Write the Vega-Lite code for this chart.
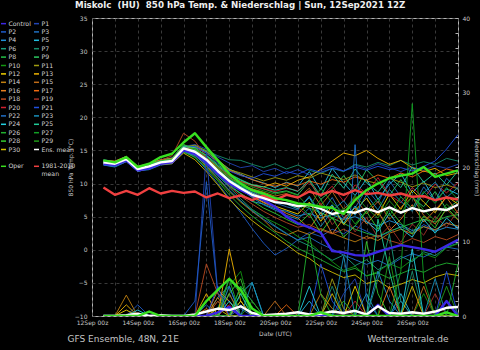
{
"$schema": "https://vega.github.io/schema/vega-lite/v6.json",
"width": 366,
"height": 298,
"autosize": {"type": "none"},
"padding": {"left": 92, "top": 18, "right": 22, "bottom": 34},
"background": "#000000",
"title": {"text": "Miskolc\u00a0 (HU)\u00a0 850 hPa Temp. & Niederschlag | Sun, 12Sep2021 12Z", "anchor": "start", "frame": "group", "dx": -17, "dy": 6.5, "offset": 5, "baseline": "alphabetic", "font": "DejaVu Sans", "fontSize": 8.7, "fontWeight": "bold", "color": "#eeeeee"},
"config": {
  "font": "DejaVu Sans",
  "view": {"stroke": "#b4b4b4", "strokeWidth": 1},
  "axis": {"labelFont": "DejaVu Sans", "titleFont": "DejaVu Sans", "labelColor": "#c8c8c8", "titleColor": "#c8c8c8", "labelFontSize": 6, "titleFontSize": 6, "titleFontWeight": "normal", "domain": false, "gridColor": "#474747", "gridDash": [3, 3], "gridWidth": 0.8}
},
"data": {"values": [
{"m":"P1","h":12,"t":13.4,"p":0},{"m":"P1","h":24,"t":13.2,"p":0},{"m":"P1","h":36,"t":13.9,"p":0},{"m":"P1","h":48,"t":12.5,"p":0},{"m":"P1","h":60,"t":12.7,"p":0},{"m":"P1","h":72,"t":13.4,"p":0},{"m":"P1","h":84,"t":13.7,"p":0},{"m":"P1","h":96,"t":15.6,"p":0},{"m":"P1","h":108,"t":15.9,"p":0},{"m":"P1","h":120,"t":15.2,"p":22},{"m":"P1","h":132,"t":14.0,"p":3},{"m":"P1","h":144,"t":13.1,"p":0},{"m":"P1","h":156,"t":12.4,"p":1.5},{"m":"P1","h":168,"t":12.7,"p":0},{"m":"P1","h":180,"t":11.8,"p":0},{"m":"P1","h":192,"t":12.3,"p":0},{"m":"P1","h":204,"t":11.5,"p":0},{"m":"P1","h":216,"t":12.1,"p":0},{"m":"P1","h":228,"t":11.3,"p":0},{"m":"P1","h":240,"t":12.0,"p":0},{"m":"P1","h":252,"t":12.6,"p":0},{"m":"P1","h":264,"t":11.9,"p":3},{"m":"P1","h":276,"t":12.8,"p":5},{"m":"P1","h":288,"t":12.2,"p":0},{"m":"P1","h":300,"t":13.0,"p":0},{"m":"P1","h":312,"t":12.4,"p":0},{"m":"P1","h":324,"t":11.8,"p":0},{"m":"P1","h":336,"t":12.5,"p":0},{"m":"P1","h":348,"t":12.0,"p":0},{"m":"P1","h":360,"t":12.7,"p":0},{"m":"P1","h":372,"t":12.3,"p":0},{"m":"P1","h":384,"t":12.9,"p":0},
{"m":"P2","h":12,"t":12.9,"p":0},{"m":"P2","h":24,"t":12.8,"p":0},{"m":"P2","h":36,"t":13.4,"p":0},{"m":"P2","h":48,"t":11.8,"p":1.5},{"m":"P2","h":60,"t":12.4,"p":0},{"m":"P2","h":72,"t":12.9,"p":0},{"m":"P2","h":84,"t":13.1,"p":0},{"m":"P2","h":96,"t":14.9,"p":0},{"m":"P2","h":108,"t":14.0,"p":2},{"m":"P2","h":120,"t":12.1,"p":18},{"m":"P2","h":132,"t":10.0,"p":3},{"m":"P2","h":144,"t":7.8,"p":2},{"m":"P2","h":156,"t":5.6,"p":0},{"m":"P2","h":168,"t":3.2,"p":0},{"m":"P2","h":180,"t":1.0,"p":0},{"m":"P2","h":192,"t":-0.8,"p":0},{"m":"P2","h":204,"t":0.2,"p":0},{"m":"P2","h":216,"t":1.5,"p":0},{"m":"P2","h":228,"t":2.6,"p":0},{"m":"P2","h":240,"t":2.0,"p":0},{"m":"P2","h":252,"t":3.1,"p":0},{"m":"P2","h":264,"t":2.4,"p":0},{"m":"P2","h":276,"t":3.6,"p":0},{"m":"P2","h":288,"t":2.8,"p":0},{"m":"P2","h":300,"t":1.9,"p":0},{"m":"P2","h":312,"t":2.7,"p":0},{"m":"P2","h":324,"t":3.5,"p":0},{"m":"P2","h":336,"t":2.6,"p":0},{"m":"P2","h":348,"t":3.8,"p":0},{"m":"P2","h":360,"t":3.0,"p":0},{"m":"P2","h":372,"t":4.1,"p":0},{"m":"P2","h":384,"t":3.4,"p":0},
{"m":"P3","h":12,"t":13.6,"p":0},{"m":"P3","h":24,"t":13.3,"p":0},{"m":"P3","h":36,"t":14.1,"p":0},{"m":"P3","h":48,"t":12.5,"p":0},{"m":"P3","h":60,"t":13.0,"p":0},{"m":"P3","h":72,"t":13.6,"p":0},{"m":"P3","h":84,"t":13.9,"p":0},{"m":"P3","h":96,"t":15.8,"p":0},{"m":"P3","h":108,"t":15.3,"p":0},{"m":"P3","h":120,"t":14.2,"p":0},{"m":"P3","h":132,"t":12.6,"p":0},{"m":"P3","h":144,"t":11.0,"p":0},{"m":"P3","h":156,"t":9.8,"p":1},{"m":"P3","h":168,"t":8.8,"p":0},{"m":"P3","h":180,"t":8.0,"p":0},{"m":"P3","h":192,"t":7.1,"p":0},{"m":"P3","h":204,"t":6.5,"p":0},{"m":"P3","h":216,"t":6.0,"p":0},{"m":"P3","h":228,"t":8.1,"p":0},{"m":"P3","h":240,"t":5.4,"p":0},{"m":"P3","h":252,"t":7.9,"p":0},{"m":"P3","h":264,"t":4.8,"p":0},{"m":"P3","h":276,"t":6.3,"p":0},{"m":"P3","h":288,"t":9.2,"p":0},{"m":"P3","h":300,"t":7.1,"p":0},{"m":"P3","h":312,"t":10.4,"p":0},{"m":"P3","h":324,"t":8.0,"p":2},{"m":"P3","h":336,"t":6.2,"p":0},{"m":"P3","h":348,"t":9.5,"p":0},{"m":"P3","h":360,"t":7.3,"p":0},{"m":"P3","h":372,"t":10.8,"p":0},{"m":"P3","h":384,"t":9.1,"p":0},
{"m":"P4","h":12,"t":12.8,"p":0},{"m":"P4","h":24,"t":12.5,"p":0},{"m":"P4","h":36,"t":13.3,"p":0},{"m":"P4","h":48,"t":11.9,"p":0},{"m":"P4","h":60,"t":12.1,"p":0},{"m":"P4","h":72,"t":12.8,"p":0},{"m":"P4","h":84,"t":13.0,"p":0},{"m":"P4","h":96,"t":14.7,"p":0},{"m":"P4","h":108,"t":14.3,"p":0},{"m":"P4","h":120,"t":13.0,"p":0},{"m":"P4","h":132,"t":11.2,"p":2.5},{"m":"P4","h":144,"t":9.6,"p":4},{"m":"P4","h":156,"t":8.5,"p":0},{"m":"P4","h":168,"t":7.3,"p":0},{"m":"P4","h":180,"t":6.9,"p":0},{"m":"P4","h":192,"t":6.2,"p":0},{"m":"P4","h":204,"t":5.8,"p":0},{"m":"P4","h":216,"t":5.1,"p":0},{"m":"P4","h":228,"t":5.5,"p":0},{"m":"P4","h":240,"t":4.8,"p":0},{"m":"P4","h":252,"t":5.3,"p":0},{"m":"P4","h":264,"t":4.6,"p":0},{"m":"P4","h":276,"t":5.0,"p":0},{"m":"P4","h":288,"t":4.2,"p":0},{"m":"P4","h":300,"t":3.6,"p":6},{"m":"P4","h":312,"t":4.4,"p":2},{"m":"P4","h":324,"t":3.8,"p":0},{"m":"P4","h":336,"t":2.9,"p":0},{"m":"P4","h":348,"t":3.5,"p":0},{"m":"P4","h":360,"t":2.8,"p":0},{"m":"P4","h":372,"t":3.4,"p":0},{"m":"P4","h":384,"t":3.1,"p":0},
{"m":"P5","h":12,"t":13.3,"p":0},{"m":"P5","h":24,"t":13.1,"p":0},{"m":"P5","h":36,"t":13.8,"p":0},{"m":"P5","h":48,"t":12.3,"p":0},{"m":"P5","h":60,"t":12.7,"p":0},{"m":"P5","h":72,"t":13.3,"p":0},{"m":"P5","h":84,"t":13.5,"p":0},{"m":"P5","h":96,"t":15.4,"p":0},{"m":"P5","h":108,"t":15.6,"p":0},{"m":"P5","h":120,"t":14.8,"p":0},{"m":"P5","h":132,"t":13.5,"p":0},{"m":"P5","h":144,"t":12.2,"p":0},{"m":"P5","h":156,"t":11.4,"p":3},{"m":"P5","h":168,"t":10.6,"p":4.5},{"m":"P5","h":180,"t":10.1,"p":0},{"m":"P5","h":192,"t":9.4,"p":0},{"m":"P5","h":204,"t":10.2,"p":0},{"m":"P5","h":216,"t":9.6,"p":0},{"m":"P5","h":228,"t":11.8,"p":2},{"m":"P5","h":240,"t":9.0,"p":0},{"m":"P5","h":252,"t":12.3,"p":0},{"m":"P5","h":264,"t":10.1,"p":0},{"m":"P5","h":276,"t":8.2,"p":0},{"m":"P5","h":288,"t":10.7,"p":0},{"m":"P5","h":300,"t":7.6,"p":0},{"m":"P5","h":312,"t":9.9,"p":0},{"m":"P5","h":324,"t":11.5,"p":3},{"m":"P5","h":336,"t":8.6,"p":0},{"m":"P5","h":348,"t":10.4,"p":0},{"m":"P5","h":360,"t":7.4,"p":0},{"m":"P5","h":372,"t":9.2,"p":0},{"m":"P5","h":384,"t":8.4,"p":0},
{"m":"P6","h":12,"t":13.2,"p":0},{"m":"P6","h":24,"t":13.0,"p":0},{"m":"P6","h":36,"t":13.6,"p":0},{"m":"P6","h":48,"t":12.1,"p":0},{"m":"P6","h":60,"t":12.6,"p":0},{"m":"P6","h":72,"t":13.1,"p":0},{"m":"P6","h":84,"t":13.3,"p":0},{"m":"P6","h":96,"t":15.1,"p":0},{"m":"P6","h":108,"t":14.6,"p":0},{"m":"P6","h":120,"t":13.2,"p":0},{"m":"P6","h":132,"t":11.2,"p":0},{"m":"P6","h":144,"t":9.4,"p":3},{"m":"P6","h":156,"t":7.7,"p":0},{"m":"P6","h":168,"t":6.1,"p":0},{"m":"P6","h":180,"t":5.0,"p":0},{"m":"P6","h":192,"t":3.6,"p":0},{"m":"P6","h":204,"t":2.5,"p":0},{"m":"P6","h":216,"t":1.4,"p":0},{"m":"P6","h":228,"t":0.6,"p":0},{"m":"P6","h":240,"t":-0.5,"p":0},{"m":"P6","h":252,"t":-1.6,"p":0},{"m":"P6","h":264,"t":-0.8,"p":0},{"m":"P6","h":276,"t":-2.4,"p":0},{"m":"P6","h":288,"t":-1.5,"p":0},{"m":"P6","h":300,"t":-3.0,"p":5},{"m":"P6","h":312,"t":-2.2,"p":11},{"m":"P6","h":324,"t":-1.0,"p":2},{"m":"P6","h":336,"t":-1.8,"p":0},{"m":"P6","h":348,"t":-0.3,"p":0},{"m":"P6","h":360,"t":-0.9,"p":0},{"m":"P6","h":372,"t":0.4,"p":0},{"m":"P6","h":384,"t":1.0,"p":0},
{"m":"P7","h":12,"t":13.1,"p":0},{"m":"P7","h":24,"t":12.9,"p":0},{"m":"P7","h":36,"t":13.6,"p":0},{"m":"P7","h":48,"t":12.2,"p":0},{"m":"P7","h":60,"t":12.5,"p":0},{"m":"P7","h":72,"t":13.3,"p":0},{"m":"P7","h":84,"t":13.6,"p":0},{"m":"P7","h":96,"t":15.5,"p":0},{"m":"P7","h":108,"t":15.7,"p":0},{"m":"P7","h":120,"t":15.0,"p":0},{"m":"P7","h":132,"t":14.2,"p":0},{"m":"P7","h":144,"t":13.6,"p":0},{"m":"P7","h":156,"t":13.5,"p":2},{"m":"P7","h":168,"t":12.9,"p":0},{"m":"P7","h":180,"t":12.4,"p":0},{"m":"P7","h":192,"t":13.0,"p":0},{"m":"P7","h":204,"t":12.2,"p":0},{"m":"P7","h":216,"t":12.8,"p":0},{"m":"P7","h":228,"t":12.0,"p":0},{"m":"P7","h":240,"t":11.5,"p":0},{"m":"P7","h":252,"t":12.3,"p":4},{"m":"P7","h":264,"t":11.8,"p":0},{"m":"P7","h":276,"t":12.9,"p":0},{"m":"P7","h":288,"t":12.5,"p":0},{"m":"P7","h":300,"t":13.2,"p":0},{"m":"P7","h":312,"t":12.7,"p":0},{"m":"P7","h":324,"t":13.5,"p":0},{"m":"P7","h":336,"t":12.8,"p":6},{"m":"P7","h":348,"t":13.3,"p":0},{"m":"P7","h":360,"t":12.9,"p":0},{"m":"P7","h":372,"t":13.8,"p":0},{"m":"P7","h":384,"t":13.4,"p":0},
{"m":"P8","h":12,"t":13.5,"p":0},{"m":"P8","h":24,"t":13.3,"p":0},{"m":"P8","h":36,"t":14.0,"p":0},{"m":"P8","h":48,"t":12.4,"p":0},{"m":"P8","h":60,"t":12.9,"p":0},{"m":"P8","h":72,"t":13.5,"p":0},{"m":"P8","h":84,"t":13.8,"p":0},{"m":"P8","h":96,"t":15.7,"p":0},{"m":"P8","h":108,"t":15.4,"p":0},{"m":"P8","h":120,"t":14.0,"p":0},{"m":"P8","h":132,"t":12.3,"p":1},{"m":"P8","h":144,"t":10.8,"p":5},{"m":"P8","h":156,"t":9.6,"p":3},{"m":"P8","h":168,"t":8.9,"p":0},{"m":"P8","h":180,"t":8.2,"p":0},{"m":"P8","h":192,"t":7.9,"p":0},{"m":"P8","h":204,"t":7.4,"p":0},{"m":"P8","h":216,"t":6.8,"p":0},{"m":"P8","h":228,"t":6.3,"p":0},{"m":"P8","h":240,"t":5.6,"p":0},{"m":"P8","h":252,"t":4.8,"p":0},{"m":"P8","h":264,"t":4.0,"p":0},{"m":"P8","h":276,"t":3.1,"p":0},{"m":"P8","h":288,"t":2.5,"p":0},{"m":"P8","h":300,"t":2.0,"p":0},{"m":"P8","h":312,"t":2.8,"p":0},{"m":"P8","h":324,"t":3.4,"p":0},{"m":"P8","h":336,"t":4.0,"p":0},{"m":"P8","h":348,"t":4.6,"p":0},{"m":"P8","h":360,"t":4.2,"p":0},{"m":"P8","h":372,"t":5.0,"p":0},{"m":"P8","h":384,"t":5.3,"p":0},
{"m":"P9","h":12,"t":13.0,"p":0},{"m":"P9","h":24,"t":12.8,"p":0},{"m":"P9","h":36,"t":13.5,"p":0},{"m":"P9","h":48,"t":12.0,"p":0},{"m":"P9","h":60,"t":12.4,"p":0},{"m":"P9","h":72,"t":13.0,"p":0},{"m":"P9","h":84,"t":13.2,"p":0},{"m":"P9","h":96,"t":15.0,"p":0},{"m":"P9","h":108,"t":15.2,"p":0},{"m":"P9","h":120,"t":14.3,"p":0},{"m":"P9","h":132,"t":12.9,"p":0},{"m":"P9","h":144,"t":11.5,"p":0},{"m":"P9","h":156,"t":10.6,"p":4},{"m":"P9","h":168,"t":9.8,"p":2},{"m":"P9","h":180,"t":9.2,"p":0},{"m":"P9","h":192,"t":8.6,"p":0},{"m":"P9","h":204,"t":8.9,"p":0},{"m":"P9","h":216,"t":8.3,"p":0},{"m":"P9","h":228,"t":10.4,"p":0},{"m":"P9","h":240,"t":7.6,"p":0},{"m":"P9","h":252,"t":9.1,"p":0},{"m":"P9","h":264,"t":11.2,"p":0},{"m":"P9","h":276,"t":9.0,"p":0},{"m":"P9","h":288,"t":12.1,"p":0},{"m":"P9","h":300,"t":10.3,"p":0},{"m":"P9","h":312,"t":8.2,"p":0},{"m":"P9","h":324,"t":10.6,"p":0},{"m":"P9","h":336,"t":7.9,"p":0},{"m":"P9","h":348,"t":6.5,"p":0},{"m":"P9","h":360,"t":8.8,"p":0},{"m":"P9","h":372,"t":6.1,"p":0},{"m":"P9","h":384,"t":7.4,"p":0},
{"m":"P10","h":12,"t":13.1,"p":0},{"m":"P10","h":24,"t":13.0,"p":0},{"m":"P10","h":36,"t":13.8,"p":0},{"m":"P10","h":48,"t":12.3,"p":0},{"m":"P10","h":60,"t":12.5,"p":0},{"m":"P10","h":72,"t":13.0,"p":0},{"m":"P10","h":84,"t":13.1,"p":0},{"m":"P10","h":96,"t":14.8,"p":0},{"m":"P10","h":108,"t":13.9,"p":0},{"m":"P10","h":120,"t":12.5,"p":0},{"m":"P10","h":132,"t":10.6,"p":0},{"m":"P10","h":144,"t":8.7,"p":4},{"m":"P10","h":156,"t":7.3,"p":6},{"m":"P10","h":168,"t":6.0,"p":0},{"m":"P10","h":180,"t":4.9,"p":0},{"m":"P10","h":192,"t":4.1,"p":0},{"m":"P10","h":204,"t":3.2,"p":0},{"m":"P10","h":216,"t":2.0,"p":0},{"m":"P10","h":228,"t":1.1,"p":0},{"m":"P10","h":240,"t":-0.4,"p":0},{"m":"P10","h":252,"t":-1.8,"p":0},{"m":"P10","h":264,"t":-3.1,"p":0},{"m":"P10","h":276,"t":-2.5,"p":0},{"m":"P10","h":288,"t":-4.0,"p":0},{"m":"P10","h":300,"t":-3.3,"p":0},{"m":"P10","h":312,"t":-2.1,"p":0},{"m":"P10","h":324,"t":-2.8,"p":0},{"m":"P10","h":336,"t":-1.5,"p":0},{"m":"P10","h":348,"t":-0.6,"p":3},{"m":"P10","h":360,"t":-1.2,"p":0},{"m":"P10","h":372,"t":0.3,"p":0},{"m":"P10","h":384,"t":0.9,"p":0},
{"m":"P11","h":12,"t":13.4,"p":0},{"m":"P11","h":24,"t":13.2,"p":0},{"m":"P11","h":36,"t":13.9,"p":0},{"m":"P11","h":48,"t":12.4,"p":0},{"m":"P11","h":60,"t":12.8,"p":0},{"m":"P11","h":72,"t":13.3,"p":0},{"m":"P11","h":84,"t":13.6,"p":0},{"m":"P11","h":96,"t":15.5,"p":0},{"m":"P11","h":108,"t":15.8,"p":0},{"m":"P11","h":120,"t":14.9,"p":0},{"m":"P11","h":132,"t":13.6,"p":2},{"m":"P11","h":144,"t":12.1,"p":0},{"m":"P11","h":156,"t":11.6,"p":0},{"m":"P11","h":168,"t":11.0,"p":0},{"m":"P11","h":180,"t":10.4,"p":0},{"m":"P11","h":192,"t":10.9,"p":0},{"m":"P11","h":204,"t":10.5,"p":0},{"m":"P11","h":216,"t":11.2,"p":0},{"m":"P11","h":228,"t":10.8,"p":0},{"m":"P11","h":240,"t":11.6,"p":0},{"m":"P11","h":252,"t":11.1,"p":5},{"m":"P11","h":264,"t":10.6,"p":1},{"m":"P11","h":276,"t":11.3,"p":0},{"m":"P11","h":288,"t":10.4,"p":0},{"m":"P11","h":300,"t":10.0,"p":0},{"m":"P11","h":312,"t":10.8,"p":0},{"m":"P11","h":324,"t":10.2,"p":0},{"m":"P11","h":336,"t":9.5,"p":0},{"m":"P11","h":348,"t":10.1,"p":0},{"m":"P11","h":360,"t":9.4,"p":0},{"m":"P11","h":372,"t":9.8,"p":0},{"m":"P11","h":384,"t":9.2,"p":0},
{"m":"P12","h":12,"t":13.0,"p":0},{"m":"P12","h":24,"t":12.7,"p":0},{"m":"P12","h":36,"t":13.5,"p":0.8},{"m":"P12","h":48,"t":12.0,"p":0},{"m":"P12","h":60,"t":12.3,"p":0},{"m":"P12","h":72,"t":13.0,"p":0},{"m":"P12","h":84,"t":13.3,"p":0},{"m":"P12","h":96,"t":15.2,"p":0},{"m":"P12","h":108,"t":14.7,"p":0},{"m":"P12","h":120,"t":13.5,"p":0},{"m":"P12","h":132,"t":11.8,"p":0},{"m":"P12","h":144,"t":10.1,"p":0},{"m":"P12","h":156,"t":9.0,"p":2},{"m":"P12","h":168,"t":8.1,"p":0},{"m":"P12","h":180,"t":7.2,"p":0},{"m":"P12","h":192,"t":6.6,"p":0},{"m":"P12","h":204,"t":6.0,"p":0},{"m":"P12","h":216,"t":5.4,"p":0},{"m":"P12","h":228,"t":7.2,"p":0},{"m":"P12","h":240,"t":4.3,"p":0},{"m":"P12","h":252,"t":6.6,"p":0},{"m":"P12","h":264,"t":3.8,"p":0},{"m":"P12","h":276,"t":5.9,"p":4},{"m":"P12","h":288,"t":7.8,"p":0},{"m":"P12","h":300,"t":5.2,"p":0},{"m":"P12","h":312,"t":8.4,"p":0},{"m":"P12","h":324,"t":6.1,"p":0},{"m":"P12","h":336,"t":9.0,"p":0},{"m":"P12","h":348,"t":7.2,"p":0},{"m":"P12","h":360,"t":5.6,"p":0},{"m":"P12","h":372,"t":8.1,"p":0},{"m":"P12","h":384,"t":6.9,"p":0},
{"m":"P13","h":12,"t":13.3,"p":0},{"m":"P13","h":24,"t":13.1,"p":0},{"m":"P13","h":36,"t":13.7,"p":1.5},{"m":"P13","h":48,"t":12.2,"p":0},{"m":"P13","h":60,"t":12.7,"p":0},{"m":"P13","h":72,"t":13.4,"p":0},{"m":"P13","h":84,"t":13.5,"p":0},{"m":"P13","h":96,"t":15.4,"p":0},{"m":"P13","h":108,"t":15.1,"p":0},{"m":"P13","h":120,"t":13.9,"p":3},{"m":"P13","h":132,"t":12.5,"p":0},{"m":"P13","h":144,"t":11.2,"p":9},{"m":"P13","h":156,"t":10.3,"p":2},{"m":"P13","h":168,"t":9.8,"p":0},{"m":"P13","h":180,"t":9.5,"p":0},{"m":"P13","h":192,"t":10.1,"p":0},{"m":"P13","h":204,"t":9.6,"p":0},{"m":"P13","h":216,"t":10.5,"p":0},{"m":"P13","h":228,"t":11.0,"p":0},{"m":"P13","h":240,"t":12.2,"p":0},{"m":"P13","h":252,"t":13.4,"p":0},{"m":"P13","h":264,"t":14.6,"p":0},{"m":"P13","h":276,"t":14.2,"p":0},{"m":"P13","h":288,"t":15.0,"p":0},{"m":"P13","h":300,"t":13.8,"p":0},{"m":"P13","h":312,"t":12.9,"p":0},{"m":"P13","h":324,"t":13.5,"p":0},{"m":"P13","h":336,"t":12.4,"p":0},{"m":"P13","h":348,"t":11.8,"p":0},{"m":"P13","h":360,"t":12.3,"p":0},{"m":"P13","h":372,"t":11.2,"p":0},{"m":"P13","h":384,"t":11.6,"p":0},
{"m":"P14","h":12,"t":13.2,"p":0},{"m":"P14","h":24,"t":13.0,"p":0},{"m":"P14","h":36,"t":13.6,"p":2.8},{"m":"P14","h":48,"t":12.1,"p":0},{"m":"P14","h":60,"t":12.5,"p":0},{"m":"P14","h":72,"t":13.3,"p":0},{"m":"P14","h":84,"t":13.5,"p":0},{"m":"P14","h":96,"t":15.0,"p":0},{"m":"P14","h":108,"t":14.3,"p":0},{"m":"P14","h":120,"t":12.6,"p":0},{"m":"P14","h":132,"t":10.8,"p":2.5},{"m":"P14","h":144,"t":8.9,"p":0},{"m":"P14","h":156,"t":7.2,"p":0},{"m":"P14","h":168,"t":5.8,"p":0},{"m":"P14","h":180,"t":4.5,"p":0},{"m":"P14","h":192,"t":2.8,"p":0},{"m":"P14","h":204,"t":2.2,"p":0},{"m":"P14","h":216,"t":2.9,"p":0},{"m":"P14","h":228,"t":2.3,"p":0},{"m":"P14","h":240,"t":3.2,"p":3},{"m":"P14","h":252,"t":2.5,"p":1},{"m":"P14","h":264,"t":1.8,"p":0},{"m":"P14","h":276,"t":1.2,"p":0},{"m":"P14","h":288,"t":2.0,"p":0},{"m":"P14","h":300,"t":1.4,"p":0},{"m":"P14","h":312,"t":2.5,"p":0},{"m":"P14","h":324,"t":3.1,"p":0},{"m":"P14","h":336,"t":2.4,"p":0},{"m":"P14","h":348,"t":3.5,"p":0},{"m":"P14","h":360,"t":3.0,"p":0},{"m":"P14","h":372,"t":4.0,"p":0},{"m":"P14","h":384,"t":3.6,"p":0},
{"m":"P15","h":12,"t":12.9,"p":0},{"m":"P15","h":24,"t":12.8,"p":0},{"m":"P15","h":36,"t":13.5,"p":0},{"m":"P15","h":48,"t":12.0,"p":0},{"m":"P15","h":60,"t":12.4,"p":0},{"m":"P15","h":72,"t":13.1,"p":0},{"m":"P15","h":84,"t":13.2,"p":0},{"m":"P15","h":96,"t":15.1,"p":0},{"m":"P15","h":108,"t":14.9,"p":0},{"m":"P15","h":120,"t":13.8,"p":0},{"m":"P15","h":132,"t":12.3,"p":0},{"m":"P15","h":144,"t":10.9,"p":3},{"m":"P15","h":156,"t":9.9,"p":0},{"m":"P15","h":168,"t":9.2,"p":0},{"m":"P15","h":180,"t":8.7,"p":0},{"m":"P15","h":192,"t":8.1,"p":2},{"m":"P15","h":204,"t":8.5,"p":0},{"m":"P15","h":216,"t":7.8,"p":0},{"m":"P15","h":228,"t":9.3,"p":0},{"m":"P15","h":240,"t":6.7,"p":0},{"m":"P15","h":252,"t":8.8,"p":0},{"m":"P15","h":264,"t":6.1,"p":0},{"m":"P15","h":276,"t":7.9,"p":0},{"m":"P15","h":288,"t":5.4,"p":0},{"m":"P15","h":300,"t":7.3,"p":0},{"m":"P15","h":312,"t":4.6,"p":0},{"m":"P15","h":324,"t":6.4,"p":0},{"m":"P15","h":336,"t":8.0,"p":0},{"m":"P15","h":348,"t":5.2,"p":4},{"m":"P15","h":360,"t":3.9,"p":0},{"m":"P15","h":372,"t":6.1,"p":0},{"m":"P15","h":384,"t":4.5,"p":0},
{"m":"P16","h":12,"t":13.5,"p":0},{"m":"P16","h":24,"t":13.4,"p":0},{"m":"P16","h":36,"t":14.1,"p":0},{"m":"P16","h":48,"t":12.6,"p":0},{"m":"P16","h":60,"t":13.0,"p":0},{"m":"P16","h":72,"t":13.6,"p":0},{"m":"P16","h":84,"t":13.8,"p":0},{"m":"P16","h":96,"t":15.6,"p":0},{"m":"P16","h":108,"t":15.2,"p":0},{"m":"P16","h":120,"t":13.8,"p":0},{"m":"P16","h":132,"t":12.1,"p":3.5},{"m":"P16","h":144,"t":10.4,"p":2},{"m":"P16","h":156,"t":9.2,"p":0},{"m":"P16","h":168,"t":8.0,"p":0},{"m":"P16","h":180,"t":7.1,"p":0},{"m":"P16","h":192,"t":6.4,"p":0},{"m":"P16","h":204,"t":5.5,"p":0},{"m":"P16","h":216,"t":4.8,"p":0},{"m":"P16","h":228,"t":3.2,"p":0},{"m":"P16","h":240,"t":5.6,"p":0},{"m":"P16","h":252,"t":2.4,"p":0},{"m":"P16","h":264,"t":4.7,"p":0},{"m":"P16","h":276,"t":6.3,"p":0},{"m":"P16","h":288,"t":3.9,"p":0},{"m":"P16","h":300,"t":5.8,"p":0},{"m":"P16","h":312,"t":2.9,"p":4},{"m":"P16","h":324,"t":4.6,"p":0},{"m":"P16","h":336,"t":6.8,"p":0},{"m":"P16","h":348,"t":4.2,"p":0},{"m":"P16","h":360,"t":6.0,"p":0},{"m":"P16","h":372,"t":7.9,"p":0},{"m":"P16","h":384,"t":5.5,"p":0},
{"m":"P17","h":12,"t":13.1,"p":0},{"m":"P17","h":24,"t":12.9,"p":0},{"m":"P17","h":36,"t":13.5,"p":0},{"m":"P17","h":48,"t":12.1,"p":0},{"m":"P17","h":60,"t":12.6,"p":0},{"m":"P17","h":72,"t":13.2,"p":0},{"m":"P17","h":84,"t":13.5,"p":0},{"m":"P17","h":96,"t":15.3,"p":0},{"m":"P17","h":108,"t":15.5,"p":0},{"m":"P17","h":120,"t":14.6,"p":1},{"m":"P17","h":132,"t":13.3,"p":0},{"m":"P17","h":144,"t":12.0,"p":0},{"m":"P17","h":156,"t":11.3,"p":0},{"m":"P17","h":168,"t":10.6,"p":0},{"m":"P17","h":180,"t":10.0,"p":0},{"m":"P17","h":192,"t":9.6,"p":0},{"m":"P17","h":204,"t":10.1,"p":1.5},{"m":"P17","h":216,"t":9.7,"p":0},{"m":"P17","h":228,"t":10.4,"p":0},{"m":"P17","h":240,"t":9.9,"p":0},{"m":"P17","h":252,"t":10.6,"p":0},{"m":"P17","h":264,"t":10.2,"p":0},{"m":"P17","h":276,"t":11.0,"p":0},{"m":"P17","h":288,"t":10.5,"p":0},{"m":"P17","h":300,"t":11.3,"p":0},{"m":"P17","h":312,"t":10.8,"p":0},{"m":"P17","h":324,"t":11.6,"p":0},{"m":"P17","h":336,"t":11.0,"p":0},{"m":"P17","h":348,"t":11.9,"p":0},{"m":"P17","h":360,"t":11.4,"p":0},{"m":"P17","h":372,"t":12.2,"p":0},{"m":"P17","h":384,"t":11.8,"p":0},
{"m":"P18","h":12,"t":13.3,"p":0},{"m":"P18","h":24,"t":13.1,"p":0},{"m":"P18","h":36,"t":13.8,"p":0},{"m":"P18","h":48,"t":12.4,"p":0},{"m":"P18","h":60,"t":12.8,"p":0},{"m":"P18","h":72,"t":13.5,"p":0},{"m":"P18","h":84,"t":14.2,"p":0},{"m":"P18","h":96,"t":17.6,"p":0},{"m":"P18","h":108,"t":16.4,"p":0},{"m":"P18","h":120,"t":14.0,"p":7},{"m":"P18","h":132,"t":11.8,"p":3},{"m":"P18","h":144,"t":9.6,"p":1},{"m":"P18","h":156,"t":8.1,"p":0},{"m":"P18","h":168,"t":6.9,"p":0},{"m":"P18","h":180,"t":5.8,"p":0},{"m":"P18","h":192,"t":4.9,"p":0},{"m":"P18","h":204,"t":4.1,"p":0},{"m":"P18","h":216,"t":3.4,"p":0},{"m":"P18","h":228,"t":3.8,"p":0},{"m":"P18","h":240,"t":3.0,"p":0},{"m":"P18","h":252,"t":2.4,"p":0},{"m":"P18","h":264,"t":3.1,"p":0},{"m":"P18","h":276,"t":2.3,"p":0},{"m":"P18","h":288,"t":1.6,"p":0},{"m":"P18","h":300,"t":2.2,"p":0},{"m":"P18","h":312,"t":1.4,"p":0},{"m":"P18","h":324,"t":0.9,"p":0},{"m":"P18","h":336,"t":1.7,"p":0},{"m":"P18","h":348,"t":1.1,"p":0},{"m":"P18","h":360,"t":2.0,"p":0},{"m":"P18","h":372,"t":1.5,"p":0},{"m":"P18","h":384,"t":2.3,"p":0},
{"m":"P19","h":12,"t":13.0,"p":0},{"m":"P19","h":24,"t":12.9,"p":0},{"m":"P19","h":36,"t":13.6,"p":0},{"m":"P19","h":48,"t":12.2,"p":0},{"m":"P19","h":60,"t":12.5,"p":0},{"m":"P19","h":72,"t":13.1,"p":0},{"m":"P19","h":84,"t":13.3,"p":0},{"m":"P19","h":96,"t":15.2,"p":0},{"m":"P19","h":108,"t":14.6,"p":0},{"m":"P19","h":120,"t":13.4,"p":0},{"m":"P19","h":132,"t":11.8,"p":2},{"m":"P19","h":144,"t":10.3,"p":0},{"m":"P19","h":156,"t":9.4,"p":0},{"m":"P19","h":168,"t":8.6,"p":0},{"m":"P19","h":180,"t":8.0,"p":0},{"m":"P19","h":192,"t":7.5,"p":0},{"m":"P19","h":204,"t":7.0,"p":0},{"m":"P19","h":216,"t":6.4,"p":0},{"m":"P19","h":228,"t":4.9,"p":0},{"m":"P19","h":240,"t":7.1,"p":0},{"m":"P19","h":252,"t":3.8,"p":0},{"m":"P19","h":264,"t":5.6,"p":0},{"m":"P19","h":276,"t":2.7,"p":0},{"m":"P19","h":288,"t":4.9,"p":0},{"m":"P19","h":300,"t":1.8,"p":0},{"m":"P19","h":312,"t":3.6,"p":0},{"m":"P19","h":324,"t":1.1,"p":0},{"m":"P19","h":336,"t":3.9,"p":0},{"m":"P19","h":348,"t":2.2,"p":0},{"m":"P19","h":360,"t":5.1,"p":3},{"m":"P19","h":372,"t":3.4,"p":0},{"m":"P19","h":384,"t":6.0,"p":0},
{"m":"P20","h":12,"t":13.4,"p":0},{"m":"P20","h":24,"t":13.2,"p":0},{"m":"P20","h":36,"t":13.8,"p":0},{"m":"P20","h":48,"t":12.3,"p":0},{"m":"P20","h":60,"t":12.7,"p":0},{"m":"P20","h":72,"t":13.2,"p":0},{"m":"P20","h":84,"t":13.4,"p":0},{"m":"P20","h":96,"t":15.3,"p":0},{"m":"P20","h":108,"t":15.0,"p":0},{"m":"P20","h":120,"t":14.0,"p":0},{"m":"P20","h":132,"t":12.6,"p":0},{"m":"P20","h":144,"t":11.2,"p":1.5},{"m":"P20","h":156,"t":10.3,"p":0},{"m":"P20","h":168,"t":9.7,"p":0},{"m":"P20","h":180,"t":9.2,"p":0},{"m":"P20","h":192,"t":8.8,"p":0},{"m":"P20","h":204,"t":9.3,"p":0},{"m":"P20","h":216,"t":8.9,"p":0},{"m":"P20","h":228,"t":10.2,"p":0},{"m":"P20","h":240,"t":8.0,"p":0},{"m":"P20","h":252,"t":9.6,"p":0},{"m":"P20","h":264,"t":7.3,"p":0},{"m":"P20","h":276,"t":9.8,"p":2},{"m":"P20","h":288,"t":8.5,"p":0},{"m":"P20","h":300,"t":10.9,"p":0},{"m":"P20","h":312,"t":8.3,"p":0},{"m":"P20","h":324,"t":7.1,"p":0},{"m":"P20","h":336,"t":9.4,"p":0},{"m":"P20","h":348,"t":7.8,"p":0},{"m":"P20","h":360,"t":9.9,"p":0},{"m":"P20","h":372,"t":8.6,"p":0},{"m":"P20","h":384,"t":10.1,"p":0},
{"m":"P21","h":12,"t":13.2,"p":0},{"m":"P21","h":24,"t":13.1,"p":0},{"m":"P21","h":36,"t":13.7,"p":0},{"m":"P21","h":48,"t":12.3,"p":0},{"m":"P21","h":60,"t":12.6,"p":0},{"m":"P21","h":72,"t":13.1,"p":0},{"m":"P21","h":84,"t":13.4,"p":0},{"m":"P21","h":96,"t":15.5,"p":0},{"m":"P21","h":108,"t":15.6,"p":0},{"m":"P21","h":120,"t":14.6,"p":0},{"m":"P21","h":132,"t":13.1,"p":4},{"m":"P21","h":144,"t":11.9,"p":0},{"m":"P21","h":156,"t":11.2,"p":0},{"m":"P21","h":168,"t":10.8,"p":0},{"m":"P21","h":180,"t":11.5,"p":0},{"m":"P21","h":192,"t":11.1,"p":0},{"m":"P21","h":204,"t":11.8,"p":0},{"m":"P21","h":216,"t":11.4,"p":0},{"m":"P21","h":228,"t":12.2,"p":0},{"m":"P21","h":240,"t":11.7,"p":7},{"m":"P21","h":252,"t":12.3,"p":2},{"m":"P21","h":264,"t":11.9,"p":0},{"m":"P21","h":276,"t":12.5,"p":0},{"m":"P21","h":288,"t":12.0,"p":0},{"m":"P21","h":300,"t":12.6,"p":0},{"m":"P21","h":312,"t":12.1,"p":0},{"m":"P21","h":324,"t":12.4,"p":0},{"m":"P21","h":336,"t":11.9,"p":0},{"m":"P21","h":348,"t":12.6,"p":0},{"m":"P21","h":360,"t":13.4,"p":0},{"m":"P21","h":372,"t":15.2,"p":6},{"m":"P21","h":384,"t":17.4,"p":0},
{"m":"P22","h":12,"t":12.8,"p":0},{"m":"P22","h":24,"t":12.6,"p":0},{"m":"P22","h":36,"t":13.3,"p":0},{"m":"P22","h":48,"t":11.8,"p":0},{"m":"P22","h":60,"t":12.3,"p":0},{"m":"P22","h":72,"t":12.9,"p":0},{"m":"P22","h":84,"t":13.1,"p":0},{"m":"P22","h":96,"t":14.9,"p":0},{"m":"P22","h":108,"t":14.2,"p":0},{"m":"P22","h":120,"t":12.8,"p":1.5},{"m":"P22","h":132,"t":10.9,"p":0},{"m":"P22","h":144,"t":9.0,"p":4},{"m":"P22","h":156,"t":7.4,"p":0},{"m":"P22","h":168,"t":5.9,"p":0},{"m":"P22","h":180,"t":4.6,"p":0},{"m":"P22","h":192,"t":3.5,"p":0},{"m":"P22","h":204,"t":2.4,"p":0},{"m":"P22","h":216,"t":1.5,"p":0},{"m":"P22","h":228,"t":1.9,"p":0},{"m":"P22","h":240,"t":0.9,"p":0},{"m":"P22","h":252,"t":0.1,"p":0},{"m":"P22","h":264,"t":-0.8,"p":0},{"m":"P22","h":276,"t":-1.5,"p":23},{"m":"P22","h":288,"t":-2.2,"p":2},{"m":"P22","h":300,"t":-1.6,"p":0},{"m":"P22","h":312,"t":-2.4,"p":0},{"m":"P22","h":324,"t":-1.3,"p":0},{"m":"P22","h":336,"t":-0.6,"p":0},{"m":"P22","h":348,"t":-1.1,"p":0},{"m":"P22","h":360,"t":-0.2,"p":0},{"m":"P22","h":372,"t":0.4,"p":0},{"m":"P22","h":384,"t":0.1,"p":0},
{"m":"P23","h":12,"t":13.3,"p":0},{"m":"P23","h":24,"t":13.2,"p":0},{"m":"P23","h":36,"t":13.8,"p":0},{"m":"P23","h":48,"t":12.3,"p":0},{"m":"P23","h":60,"t":12.6,"p":0},{"m":"P23","h":72,"t":13.3,"p":0},{"m":"P23","h":84,"t":13.5,"p":0},{"m":"P23","h":96,"t":15.2,"p":0},{"m":"P23","h":108,"t":15.1,"p":0},{"m":"P23","h":120,"t":13.7,"p":0},{"m":"P23","h":132,"t":12.0,"p":0},{"m":"P23","h":144,"t":10.3,"p":0},{"m":"P23","h":156,"t":9.1,"p":0},{"m":"P23","h":168,"t":7.9,"p":4.5},{"m":"P23","h":180,"t":6.8,"p":0},{"m":"P23","h":192,"t":6.0,"p":0},{"m":"P23","h":204,"t":5.2,"p":0},{"m":"P23","h":216,"t":4.6,"p":0},{"m":"P23","h":228,"t":6.3,"p":0},{"m":"P23","h":240,"t":3.5,"p":0},{"m":"P23","h":252,"t":5.9,"p":0},{"m":"P23","h":264,"t":7.4,"p":8},{"m":"P23","h":276,"t":5.2,"p":0},{"m":"P23","h":288,"t":8.3,"p":3},{"m":"P23","h":300,"t":6.0,"p":0},{"m":"P23","h":312,"t":9.1,"p":0},{"m":"P23","h":324,"t":7.3,"p":0},{"m":"P23","h":336,"t":5.8,"p":0},{"m":"P23","h":348,"t":8.6,"p":0},{"m":"P23","h":360,"t":10.2,"p":5},{"m":"P23","h":372,"t":7.9,"p":0},{"m":"P23","h":384,"t":9.4,"p":0},
{"m":"P24","h":12,"t":13.1,"p":0},{"m":"P24","h":24,"t":12.9,"p":0},{"m":"P24","h":36,"t":13.6,"p":0},{"m":"P24","h":48,"t":12.1,"p":0.8},{"m":"P24","h":60,"t":12.7,"p":0},{"m":"P24","h":72,"t":13.2,"p":0},{"m":"P24","h":84,"t":13.4,"p":0},{"m":"P24","h":96,"t":15.4,"p":0},{"m":"P24","h":108,"t":14.9,"p":0},{"m":"P24","h":120,"t":13.6,"p":0},{"m":"P24","h":132,"t":12.0,"p":0},{"m":"P24","h":144,"t":10.6,"p":2},{"m":"P24","h":156,"t":9.5,"p":0},{"m":"P24","h":168,"t":8.6,"p":0},{"m":"P24","h":180,"t":7.8,"p":0},{"m":"P24","h":192,"t":7.3,"p":0},{"m":"P24","h":204,"t":6.9,"p":0},{"m":"P24","h":216,"t":6.2,"p":0},{"m":"P24","h":228,"t":7.9,"p":4},{"m":"P24","h":240,"t":5.1,"p":0},{"m":"P24","h":252,"t":6.8,"p":0},{"m":"P24","h":264,"t":4.0,"p":0},{"m":"P24","h":276,"t":6.6,"p":0},{"m":"P24","h":288,"t":4.3,"p":0},{"m":"P24","h":300,"t":2.8,"p":0},{"m":"P24","h":312,"t":5.5,"p":0},{"m":"P24","h":324,"t":3.2,"p":0},{"m":"P24","h":336,"t":1.9,"p":9},{"m":"P24","h":348,"t":4.6,"p":0},{"m":"P24","h":360,"t":2.5,"p":0},{"m":"P24","h":372,"t":4.8,"p":0},{"m":"P24","h":384,"t":3.2,"p":0},
{"m":"P25","h":12,"t":13.4,"p":0},{"m":"P25","h":24,"t":13.3,"p":0},{"m":"P25","h":36,"t":13.9,"p":0},{"m":"P25","h":48,"t":12.4,"p":0},{"m":"P25","h":60,"t":12.9,"p":0},{"m":"P25","h":72,"t":13.4,"p":0},{"m":"P25","h":84,"t":13.6,"p":0},{"m":"P25","h":96,"t":15.6,"p":0},{"m":"P25","h":108,"t":15.4,"p":0},{"m":"P25","h":120,"t":14.2,"p":0},{"m":"P25","h":132,"t":12.7,"p":0},{"m":"P25","h":144,"t":11.4,"p":0},{"m":"P25","h":156,"t":10.5,"p":3},{"m":"P25","h":168,"t":9.8,"p":0},{"m":"P25","h":180,"t":9.5,"p":0},{"m":"P25","h":192,"t":9.0,"p":0},{"m":"P25","h":204,"t":9.4,"p":0},{"m":"P25","h":216,"t":8.8,"p":0},{"m":"P25","h":228,"t":10.6,"p":0},{"m":"P25","h":240,"t":8.1,"p":0},{"m":"P25","h":252,"t":11.4,"p":0},{"m":"P25","h":264,"t":9.3,"p":0},{"m":"P25","h":276,"t":12.2,"p":0},{"m":"P25","h":288,"t":10.1,"p":0},{"m":"P25","h":300,"t":8.7,"p":13},{"m":"P25","h":312,"t":11.0,"p":6},{"m":"P25","h":324,"t":9.4,"p":0},{"m":"P25","h":336,"t":12.5,"p":0},{"m":"P25","h":348,"t":10.2,"p":0},{"m":"P25","h":360,"t":11.6,"p":0},{"m":"P25","h":372,"t":9.8,"p":0},{"m":"P25","h":384,"t":11.9,"p":0},
{"m":"P26","h":12,"t":13.0,"p":0},{"m":"P26","h":24,"t":12.8,"p":0},{"m":"P26","h":36,"t":13.5,"p":0},{"m":"P26","h":48,"t":12.0,"p":0},{"m":"P26","h":60,"t":12.4,"p":0},{"m":"P26","h":72,"t":13.0,"p":0},{"m":"P26","h":84,"t":13.2,"p":0},{"m":"P26","h":96,"t":14.8,"p":0},{"m":"P26","h":108,"t":14.0,"p":0},{"m":"P26","h":120,"t":12.3,"p":0},{"m":"P26","h":132,"t":10.4,"p":0},{"m":"P26","h":144,"t":8.3,"p":5},{"m":"P26","h":156,"t":6.6,"p":0},{"m":"P26","h":168,"t":5.1,"p":0},{"m":"P26","h":180,"t":3.8,"p":0},{"m":"P26","h":192,"t":2.6,"p":0},{"m":"P26","h":204,"t":1.3,"p":0},{"m":"P26","h":216,"t":0.2,"p":0},{"m":"P26","h":228,"t":-0.6,"p":11},{"m":"P26","h":240,"t":-1.5,"p":3},{"m":"P26","h":252,"t":-2.4,"p":0},{"m":"P26","h":264,"t":-3.3,"p":2},{"m":"P26","h":276,"t":-2.8,"p":0},{"m":"P26","h":288,"t":-3.9,"p":0},{"m":"P26","h":300,"t":-3.5,"p":0},{"m":"P26","h":312,"t":-4.3,"p":0},{"m":"P26","h":324,"t":-3.6,"p":0},{"m":"P26","h":336,"t":-2.9,"p":0},{"m":"P26","h":348,"t":-3.4,"p":0},{"m":"P26","h":360,"t":-2.5,"p":0},{"m":"P26","h":372,"t":-2.0,"p":0},{"m":"P26","h":384,"t":-2.3,"p":7},
{"m":"P27","h":12,"t":13.2,"p":0},{"m":"P27","h":24,"t":13.0,"p":0},{"m":"P27","h":36,"t":13.7,"p":0},{"m":"P27","h":48,"t":12.3,"p":0},{"m":"P27","h":60,"t":12.6,"p":0},{"m":"P27","h":72,"t":13.2,"p":0},{"m":"P27","h":84,"t":13.5,"p":0},{"m":"P27","h":96,"t":15.3,"p":0},{"m":"P27","h":108,"t":15.0,"p":0},{"m":"P27","h":120,"t":13.8,"p":0},{"m":"P27","h":132,"t":12.2,"p":0},{"m":"P27","h":144,"t":10.8,"p":0},{"m":"P27","h":156,"t":9.8,"p":4},{"m":"P27","h":168,"t":9.0,"p":0},{"m":"P27","h":180,"t":8.3,"p":0},{"m":"P27","h":192,"t":7.8,"p":0},{"m":"P27","h":204,"t":7.4,"p":0},{"m":"P27","h":216,"t":6.9,"p":0},{"m":"P27","h":228,"t":5.2,"p":0},{"m":"P27","h":240,"t":7.6,"p":0},{"m":"P27","h":252,"t":4.6,"p":0},{"m":"P27","h":264,"t":6.3,"p":0},{"m":"P27","h":276,"t":3.9,"p":0},{"m":"P27","h":288,"t":5.9,"p":0},{"m":"P27","h":300,"t":7.7,"p":0},{"m":"P27","h":312,"t":5.1,"p":0},{"m":"P27","h":324,"t":8.0,"p":6},{"m":"P27","h":336,"t":6.2,"p":28.5},{"m":"P27","h":348,"t":8.8,"p":5},{"m":"P27","h":360,"t":7.0,"p":0},{"m":"P27","h":372,"t":9.4,"p":0},{"m":"P27","h":384,"t":7.6,"p":0},
{"m":"P28","h":12,"t":13.5,"p":0},{"m":"P28","h":24,"t":13.2,"p":0},{"m":"P28","h":36,"t":13.9,"p":0},{"m":"P28","h":48,"t":12.3,"p":0},{"m":"P28","h":60,"t":12.8,"p":0.6},{"m":"P28","h":72,"t":13.4,"p":0},{"m":"P28","h":84,"t":13.7,"p":0},{"m":"P28","h":96,"t":15.9,"p":0},{"m":"P28","h":108,"t":15.2,"p":0},{"m":"P28","h":120,"t":13.5,"p":0},{"m":"P28","h":132,"t":11.6,"p":0},{"m":"P28","h":144,"t":9.8,"p":3},{"m":"P28","h":156,"t":8.5,"p":5},{"m":"P28","h":168,"t":7.4,"p":0},{"m":"P28","h":180,"t":6.3,"p":0},{"m":"P28","h":192,"t":5.5,"p":0},{"m":"P28","h":204,"t":4.6,"p":0},{"m":"P28","h":216,"t":3.8,"p":0},{"m":"P28","h":228,"t":5.4,"p":0},{"m":"P28","h":240,"t":2.6,"p":0},{"m":"P28","h":252,"t":4.9,"p":0},{"m":"P28","h":264,"t":1.9,"p":0},{"m":"P28","h":276,"t":3.6,"p":0},{"m":"P28","h":288,"t":5.8,"p":10},{"m":"P28","h":300,"t":3.1,"p":3},{"m":"P28","h":312,"t":6.2,"p":0},{"m":"P28","h":324,"t":4.0,"p":0},{"m":"P28","h":336,"t":2.4,"p":0},{"m":"P28","h":348,"t":5.1,"p":0},{"m":"P28","h":360,"t":3.3,"p":0},{"m":"P28","h":372,"t":6.4,"p":0},{"m":"P28","h":384,"t":4.6,"p":0},
{"m":"P29","h":12,"t":13.1,"p":0},{"m":"P29","h":24,"t":12.9,"p":0},{"m":"P29","h":36,"t":13.6,"p":0},{"m":"P29","h":48,"t":12.2,"p":0},{"m":"P29","h":60,"t":12.5,"p":0},{"m":"P29","h":72,"t":13.1,"p":0},{"m":"P29","h":84,"t":13.3,"p":0},{"m":"P29","h":96,"t":15.1,"p":0},{"m":"P29","h":108,"t":15.3,"p":0},{"m":"P29","h":120,"t":14.1,"p":0},{"m":"P29","h":132,"t":12.5,"p":0},{"m":"P29","h":144,"t":11.1,"p":0},{"m":"P29","h":156,"t":10.2,"p":0},{"m":"P29","h":168,"t":9.5,"p":2},{"m":"P29","h":180,"t":8.9,"p":0},{"m":"P29","h":192,"t":8.4,"p":0},{"m":"P29","h":204,"t":8.8,"p":0},{"m":"P29","h":216,"t":8.2,"p":0},{"m":"P29","h":228,"t":6.4,"p":0},{"m":"P29","h":240,"t":9.3,"p":0},{"m":"P29","h":252,"t":7.1,"p":0},{"m":"P29","h":264,"t":5.6,"p":0},{"m":"P29","h":276,"t":8.2,"p":0},{"m":"P29","h":288,"t":6.3,"p":0},{"m":"P29","h":300,"t":4.8,"p":0},{"m":"P29","h":312,"t":7.4,"p":8},{"m":"P29","h":324,"t":5.5,"p":0},{"m":"P29","h":336,"t":8.1,"p":0},{"m":"P29","h":348,"t":6.0,"p":0},{"m":"P29","h":360,"t":4.4,"p":0},{"m":"P29","h":372,"t":6.9,"p":4},{"m":"P29","h":384,"t":5.2,"p":0},
{"m":"P30","h":12,"t":13.0,"p":0},{"m":"P30","h":24,"t":12.7,"p":0},{"m":"P30","h":36,"t":13.4,"p":0},{"m":"P30","h":48,"t":11.9,"p":0},{"m":"P30","h":60,"t":12.3,"p":0},{"m":"P30","h":72,"t":12.9,"p":0},{"m":"P30","h":84,"t":13.0,"p":0},{"m":"P30","h":96,"t":14.6,"p":0},{"m":"P30","h":108,"t":13.6,"p":0},{"m":"P30","h":120,"t":11.8,"p":0},{"m":"P30","h":132,"t":9.8,"p":1},{"m":"P30","h":144,"t":7.6,"p":0},{"m":"P30","h":156,"t":5.9,"p":0},{"m":"P30","h":168,"t":4.4,"p":0},{"m":"P30","h":180,"t":3.1,"p":0},{"m":"P30","h":192,"t":2.0,"p":0},{"m":"P30","h":204,"t":0.8,"p":0},{"m":"P30","h":216,"t":-0.5,"p":0},{"m":"P30","h":228,"t":-1.3,"p":0},{"m":"P30","h":240,"t":-2.6,"p":0},{"m":"P30","h":252,"t":-3.4,"p":3},{"m":"P30","h":264,"t":-4.2,"p":0},{"m":"P30","h":276,"t":-3.8,"p":0},{"m":"P30","h":288,"t":-5.1,"p":0},{"m":"P30","h":300,"t":-4.6,"p":0},{"m":"P30","h":312,"t":-5.8,"p":0},{"m":"P30","h":324,"t":-5.2,"p":0},{"m":"P30","h":336,"t":-4.5,"p":4},{"m":"P30","h":348,"t":-5.0,"p":0},{"m":"P30","h":360,"t":-4.1,"p":0},{"m":"P30","h":372,"t":-3.6,"p":0},{"m":"P30","h":384,"t":-3.9,"p":0},
{"m":"Control","h":12,"t":13.0,"p":0},{"m":"Control","h":24,"t":12.8,"p":0},{"m":"Control","h":36,"t":13.5,"p":0},{"m":"Control","h":48,"t":12.0,"p":0},{"m":"Control","h":60,"t":12.3,"p":0},{"m":"Control","h":72,"t":13.0,"p":0},{"m":"Control","h":84,"t":13.2,"p":0},{"m":"Control","h":96,"t":15.0,"p":0},{"m":"Control","h":108,"t":14.5,"p":0},{"m":"Control","h":120,"t":13.2,"p":0},{"m":"Control","h":132,"t":11.5,"p":0.5},{"m":"Control","h":144,"t":10.0,"p":1.2},{"m":"Control","h":156,"t":9.0,"p":0},{"m":"Control","h":168,"t":8.2,"p":0},{"m":"Control","h":180,"t":7.5,"p":0},{"m":"Control","h":192,"t":6.5,"p":0},{"m":"Control","h":204,"t":5.0,"p":0},{"m":"Control","h":216,"t":4.0,"p":0},{"m":"Control","h":228,"t":3.4,"p":0},{"m":"Control","h":240,"t":2.6,"p":0},{"m":"Control","h":252,"t":-0.2,"p":0},{"m":"Control","h":264,"t":-0.4,"p":0},{"m":"Control","h":276,"t":-0.8,"p":0},{"m":"Control","h":288,"t":-0.9,"p":0},{"m":"Control","h":300,"t":-0.3,"p":1.5},{"m":"Control","h":312,"t":0.2,"p":0},{"m":"Control","h":324,"t":0.7,"p":0},{"m":"Control","h":336,"t":0.4,"p":0},{"m":"Control","h":348,"t":0.1,"p":0},{"m":"Control","h":360,"t":-0.3,"p":0},{"m":"Control","h":372,"t":0.6,"p":2},{"m":"Control","h":384,"t":1.5,"p":0},
{"m":"1981-2010 mean","h":12,"t":9.4},{"m":"1981-2010 mean","h":24,"t":8.3},{"m":"1981-2010 mean","h":36,"t":8.9},{"m":"1981-2010 mean","h":48,"t":8.3},{"m":"1981-2010 mean","h":60,"t":9.3},{"m":"1981-2010 mean","h":72,"t":8.5},{"m":"1981-2010 mean","h":84,"t":8.9},{"m":"1981-2010 mean","h":96,"t":8.6},{"m":"1981-2010 mean","h":108,"t":8.8},{"m":"1981-2010 mean","h":120,"t":7.9},{"m":"1981-2010 mean","h":132,"t":8.5},{"m":"1981-2010 mean","h":144,"t":7.8},{"m":"1981-2010 mean","h":156,"t":8.2},{"m":"1981-2010 mean","h":168,"t":7.5},{"m":"1981-2010 mean","h":180,"t":8.2},{"m":"1981-2010 mean","h":192,"t":7.5},{"m":"1981-2010 mean","h":204,"t":8.3},{"m":"1981-2010 mean","h":216,"t":7.9},{"m":"1981-2010 mean","h":228,"t":8.8},{"m":"1981-2010 mean","h":240,"t":8.3},{"m":"1981-2010 mean","h":252,"t":8.9},{"m":"1981-2010 mean","h":264,"t":8.3},{"m":"1981-2010 mean","h":276,"t":9.0},{"m":"1981-2010 mean","h":288,"t":8.4},{"m":"1981-2010 mean","h":300,"t":8.6},{"m":"1981-2010 mean","h":312,"t":8.2},{"m":"1981-2010 mean","h":324,"t":8.5},{"m":"1981-2010 mean","h":336,"t":8.0},{"m":"1981-2010 mean","h":348,"t":8.1},{"m":"1981-2010 mean","h":360,"t":7.5},{"m":"1981-2010 mean","h":372,"t":7.9},{"m":"1981-2010 mean","h":384,"t":7.6},
{"m":"Ens. mean","h":12,"t":13.2,"p":0},{"m":"Ens. mean","h":24,"t":13.0,"p":0},{"m":"Ens. mean","h":36,"t":13.7,"p":0.1},{"m":"Ens. mean","h":48,"t":12.2,"p":0.3},{"m":"Ens. mean","h":60,"t":12.6,"p":0},{"m":"Ens. mean","h":72,"t":13.2,"p":0.1},{"m":"Ens. mean","h":84,"t":13.4,"p":0},{"m":"Ens. mean","h":96,"t":15.3,"p":0},{"m":"Ens. mean","h":108,"t":14.8,"p":0.2},{"m":"Ens. mean","h":120,"t":13.6,"p":0.6},{"m":"Ens. mean","h":132,"t":11.9,"p":1.0},{"m":"Ens. mean","h":144,"t":10.4,"p":0.8},{"m":"Ens. mean","h":156,"t":9.3,"p":1.3},{"m":"Ens. mean","h":168,"t":8.3,"p":0.4},{"m":"Ens. mean","h":180,"t":7.8,"p":0.1},{"m":"Ens. mean","h":192,"t":7.2,"p":0.2},{"m":"Ens. mean","h":204,"t":7.0,"p":0.3},{"m":"Ens. mean","h":216,"t":6.6,"p":0.5},{"m":"Ens. mean","h":228,"t":6.8,"p":0.2},{"m":"Ens. mean","h":240,"t":6.2,"p":0.3},{"m":"Ens. mean","h":252,"t":5.4,"p":0.6},{"m":"Ens. mean","h":264,"t":5.8,"p":0.4},{"m":"Ens. mean","h":276,"t":5.6,"p":0.7},{"m":"Ens. mean","h":288,"t":6.2,"p":0.2},{"m":"Ens. mean","h":300,"t":5.7,"p":1.3},{"m":"Ens. mean","h":312,"t":6.4,"p":0.4},{"m":"Ens. mean","h":324,"t":5.6,"p":0.3},{"m":"Ens. mean","h":336,"t":6.3,"p":0.5},{"m":"Ens. mean","h":348,"t":5.8,"p":0.3},{"m":"Ens. mean","h":360,"t":6.2,"p":0.6},{"m":"Ens. mean","h":372,"t":6.0,"p":1.1},{"m":"Ens. mean","h":384,"t":6.8,"p":1.2},
{"m":"Oper","h":12,"t":13.5,"p":0},{"m":"Oper","h":24,"t":13.2,"p":0},{"m":"Oper","h":36,"t":14.0,"p":0},{"m":"Oper","h":48,"t":12.5,"p":0},{"m":"Oper","h":60,"t":13.0,"p":0.6},{"m":"Oper","h":72,"t":14.0,"p":0},{"m":"Oper","h":84,"t":14.5,"p":0},{"m":"Oper","h":96,"t":16.2,"p":0},{"m":"Oper","h":108,"t":17.6,"p":0},{"m":"Oper","h":120,"t":15.5,"p":2},{"m":"Oper","h":132,"t":13.5,"p":3.5},{"m":"Oper","h":144,"t":11.5,"p":5},{"m":"Oper","h":156,"t":10.0,"p":3.5},{"m":"Oper","h":168,"t":9.0,"p":1},{"m":"Oper","h":180,"t":8.5,"p":0},{"m":"Oper","h":192,"t":7.8,"p":0},{"m":"Oper","h":204,"t":7.5,"p":0},{"m":"Oper","h":216,"t":7.0,"p":0},{"m":"Oper","h":228,"t":6.8,"p":0},{"m":"Oper","h":240,"t":6.5,"p":0.5},{"m":"Oper","h":252,"t":6.3,"p":0},{"m":"Oper","h":264,"t":5.4,"p":0},{"m":"Oper","h":276,"t":7.5,"p":0},{"m":"Oper","h":288,"t":9.0,"p":0},{"m":"Oper","h":300,"t":10.0,"p":0},{"m":"Oper","h":312,"t":10.8,"p":0},{"m":"Oper","h":324,"t":11.2,"p":0},{"m":"Oper","h":336,"t":11.5,"p":0},{"m":"Oper","h":348,"t":12.5,"p":0},{"m":"Oper","h":360,"t":11.0,"p":0},{"m":"Oper","h":372,"t":11.5,"p":0.5},{"m":"Oper","h":384,"t":12.0,"p":0}
]},
"encoding": {
  "x": {"field": "h", "type": "quantitative", "scale": {"domain": [0, 384], "nice": false, "zero": false},
        "axis": {"values": [0, 24, 48, 72, 96, 120, 144, 168, 192, 216, 240, 264, 288, 312, 336, 360, 384],
                 "labelExpr": "datum.value % 48 == 0 && datum.value < 384 ? utcFormat(utc(2021, 8, 12) + datum.value * 3600000, '%d%b %Hz') : ''",
                 "grid": true, "ticks": false, "labelPadding": 3, "labelFlush": false, "labelOverlap": false,
                 "title": "Date (UTC)", "titleX": 183, "titleY": 19, "titleAlign": "center", "titleBaseline": "alphabetic"}},
  "color": {"field": "m", "type": "nominal",
            "scale": {"domain": ["Control","P1","P2","P3","P4","P5","P6","P7","P8","P9","P10","P11","P12","P13","P14","P15","P16","P17","P18","P19","P20","P21","P22","P23","P24","P25","P26","P27","P28","P29","P30","Ens. mean"," ","  ","Oper","1981-2010 mean"],
                      "range": ["#3c28e6","#2244b4","#1e5cc8","#2070c0","#2090d8","#22bce0","#1a9c7c","#178c6c","#22c048","#2cc860","#129612","#a09c10","#f0d000","#f0b400","#c08010","#c06c18","#e88020","#f06a10","#b84a20","#a03028","#d02030","#2050e0","#2070c8","#1890bc","#22d0e0","#20cc98","#20b030","#12a024","#34cc30","#209a18","#d4c000","#ffffff","#000000","#000000","#38e020","#f04040"]},
            "legend": {"orient": "none", "legendX": -92, "legendY": 2, "direction": "horizontal", "columns": 2, "symbolLimit": 50, "title": null,
                       "symbolType": "stroke", "symbolSize": 25, "symbolStrokeWidth": 1.5,
                       "labelFont": "DejaVu Sans", "labelFontSize": 6.2, "labelColor": "#d2d2d2", "labelOffset": 1.5,
                       "rowPadding": 1.4, "columnPadding": 0, "labelLimit": 80,
                       "labelExpr": "datum.label == '1981-2010 mean' ? ['1981-2010', 'mean'] : datum.label"}}
},
"layer": [
  {
    "transform": [{"filter": {"not": {"field": "m", "oneOf": ["Control", "Oper", "Ens. mean", "1981-2010 mean"]}}}],
    "mark": {"type": "line", "strokeWidth": 0.9, "clip": true, "strokeJoin": "round"},
    "encoding": {
      "y": {"field": "t", "type": "quantitative", "scale": {"domain": [-10, 35], "nice": false, "zero": false},
            "axis": {"orient": "left", "values": [-10, -5, 0, 5, 10, 15, 20, 25, 30, 35], "grid": true, "ticks": false,
                     "labelPadding": 5, "title": "850 hPa Temp. (°C)", "titlePadding": 1}}
    }
  },
  {
    "transform": [{"filter": {"not": {"field": "m", "oneOf": ["Control", "Oper", "Ens. mean", "1981-2010 mean"]}}}],
    "mark": {"type": "line", "strokeWidth": 0.9, "clip": true, "strokeJoin": "round"},
    "encoding": {
      "y": {"field": "p", "type": "quantitative", "scale": {"domain": [0, 40], "nice": false, "zero": true},
            "axis": {"orient": "right", "values": [0, 2, 4, 6, 8, 10, 12, 14, 16, 18, 20, 22, 24, 26, 28, 30, 32, 34, 36, 38, 40],
                     "labelExpr": "datum.value % 10 == 0 ? datum.label : ''", "grid": false, "ticks": true, "tickSize": -3,
                     "tickColor": "#b4b4b4", "labelPadding": 7, "title": "Niederschlag (mm)", "titlePadding": 4}}
    }
  },
  {
    "transform": [{"filter": {"field": "m", "oneOf": ["Control", "1981-2010 mean", "Ens. mean", "Oper"]}}],
    "mark": {"type": "line", "strokeWidth": 2.4, "clip": true, "strokeJoin": "round"},
    "encoding": {
      "y": {"field": "t", "type": "quantitative", "scale": {"domain": [-10, 35], "nice": false, "zero": false},
            "axis": {"orient": "left", "labels": false, "ticks": false, "grid": false, "domain": false,
                     "title": "GFS Ensemble, 48N, 21E", "titleAngle": 0, "titleX": -25, "titleY": 323, "titleAlign": "left",
                     "titleBaseline": "alphabetic", "titleFontSize": 9, "titleColor": "#c4c4c4"}}
    }
  },
  {
    "transform": [{"filter": {"field": "m", "oneOf": ["Control", "Ens. mean", "Oper"]}}],
    "mark": {"type": "line", "strokeWidth": 2.4, "clip": true, "strokeJoin": "round"},
    "encoding": {
      "y": {"field": "p", "type": "quantitative", "scale": {"domain": [0, 40], "nice": false, "zero": true},
            "axis": {"orient": "right", "labels": false, "ticks": false, "grid": false, "domain": false,
                     "title": "Wetterzentrale.de", "titleAngle": 0, "titleX": -10, "titleY": 323, "titleAlign": "right",
                     "titleBaseline": "alphabetic", "titleFontSize": 9, "titleColor": "#c4c4c4"}}
    }
  }
],
"resolve": {"scale": {"y": "independent"}}
}
